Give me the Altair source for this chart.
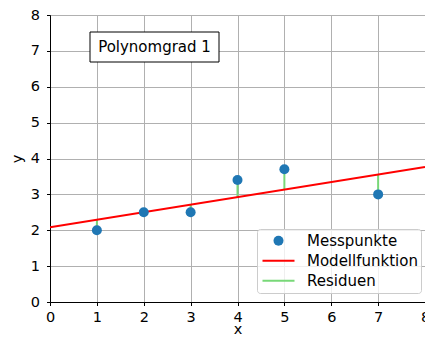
import altair as alt
import pandas as pd

# ---- data ----
x_pts = [1, 2, 3, 4, 5, 7]
y_pts = [2.0, 2.5, 2.5, 3.4, 3.7, 3.0]
y_fit = [2.29, 2.50, 2.71, 2.92, 3.13, 3.55]   # model value at each x (residual ends)
model_x = [0, 8]
model_y = [2.08, 3.76]
series = ["Messpunkte", "Modellfunktion", "Residuen"]
colors = ["#1f77b4", "#ff0000", "#78d878"]
box_text = ["Polynomgrad 1"]
ticks = [0, 1, 2, 3, 4, 5, 6, 7, 8]

pts = pd.DataFrame({"x": x_pts, "y": y_pts, "s": series[0]})
model = pd.DataFrame({"x": model_x, "y": model_y, "s": series[1]})
res = pd.DataFrame({"x": x_pts, "y": y_pts, "y2": y_fit, "s": series[2]})
box = pd.DataFrame({"t": box_text})

FONT = "DejaVu Sans"
xs = alt.Scale(domain=[0, 8], nice=False, zero=False)
ys = alt.Scale(domain=[0, 8], nice=False, zero=False)
cscale = alt.Scale(domain=series, range=colors)

is_pt = f"datum.value === '{series[0]}'"
legend = alt.Legend(
    title=None, orient="none", legendX=207, legendY=214,
    fillColor="rgba(255,255,255,0.8)", strokeColor="#cccccc", cornerRadius=3,
    padding=3, symbolOffset=11,
    symbolType=alt.ExprRef(f"{is_pt} ? 'circle' : 'stroke'"),
    symbolSize=alt.ExprRef(f"{is_pt} ? 100 : 1024"),
    symbolStrokeWidth=alt.ExprRef(f"{is_pt} ? 0 : 2"),
    symbolOpacity=1,
    labelOffset=21, clipHeight=17.5, rowPadding=2,
    labelFont=FONT, labelFontSize=15, labelColor="black",
)

xaxis = alt.Axis(values=ticks, title="x", grid=True, labelPadding=5,
                 titleBaseline="alphabetic", titleY=31.5,
                 tickSize=3.5, labelFlush=False)
yaxis = alt.Axis(values=ticks, title="y", grid=True, labelPadding=7, titlePadding=6,
                 tickSize=3.5, labelFlush=False)

color = alt.Color("s:N", scale=cscale, legend=legend)

resid = alt.Chart(res).mark_rule(strokeWidth=2).encode(
    x=alt.X("x:Q", scale=xs, axis=xaxis),
    y=alt.Y("y:Q", scale=ys, axis=yaxis),
    y2="y2:Q",
    color=color,
)
line = alt.Chart(model).mark_line(strokeWidth=2, clip=True).encode(
    x=alt.X("x:Q", scale=xs, axis=xaxis),
    y=alt.Y("y:Q", scale=ys, axis=yaxis),
    color=color,
)
points = alt.Chart(pts).mark_point(filled=True, size=100, opacity=1).encode(
    x=alt.X("x:Q", scale=xs, axis=xaxis),
    y=alt.Y("y:Q", scale=ys, axis=yaxis),
    color=color,
)
rect = alt.Chart(box).mark_rect(fill="white", stroke="black", strokeWidth=1).encode(
    x=alt.value(40), x2=alt.value(169), y=alt.value(17), y2=alt.value(47),
)
label = alt.Chart(box).mark_text(font=FONT, fontSize=15, color="black",
                                 align="center", baseline="middle").encode(
    x=alt.value(104.5), y=alt.value(32), text="t:N",
)

chart = alt.layer(resid, line, points, rect, label).properties(
    width=375, height=287,
    autosize=alt.AutoSizeParams(type="none"),
    padding={"left": 42, "top": 7, "right": 0, "bottom": 35},
).configure_view(
    stroke="black", strokeWidth=1,
).configure_axis(
    domainColor="black", tickColor="black", gridColor="#b0b0b0", gridWidth=1,
    labelFont=FONT, labelFontSize=14.5, labelColor="black",
    titleFont=FONT, titleFontSize=14.5, titleFontWeight="normal", titleColor="black",
)

chart.save("out.html", embed_options={"renderer": "svg", "actions": False})
